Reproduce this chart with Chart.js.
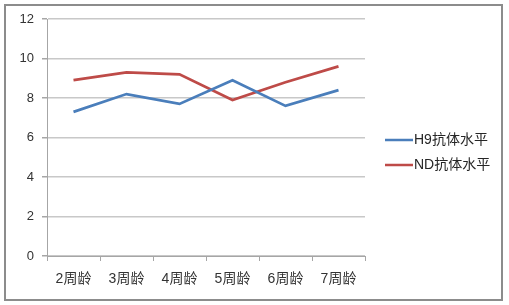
<!DOCTYPE html>
<html><head><meta charset="utf-8">
<script src="https://cdn.jsdelivr.net/npm/chart.js@4/dist/chart.umd.min.js"></script>
<style>html,body{margin:0;padding:0;background:#fff;}#w{width:509px;height:305px;position:relative;}</style>
</head><body><div id="w"><canvas id="c"></canvas></div>
<script>
const categories = ["2周龄","3周龄","4周龄","5周龄","6周龄","7周龄"];
const h9Values = [7.3, 8.2, 7.7, 8.9, 7.6, 8.4];
const ndValues = [8.9, 9.3, 9.2, 7.9, 8.8, 9.6];
const seriesNames = ["H9抗体水平","ND抗体水平"];
const yTicks = [0,2,4,6,8,10,12];

const FONT = "'Liberation Sans','Noto Sans CJK SC',sans-serif";

const frame = {
  id:'frame',
  afterDraw(chart){
    const ctx = chart.ctx;
    ctx.save();
    ctx.strokeStyle = '#8c8c8c';
    ctx.lineWidth = 2;
    ctx.strokeRect(5,5,497,295);
    const items = chart.data.datasets;
    const ys = [140,165];
    items.forEach((ds,i)=>{
      ctx.strokeStyle = ds.borderColor;
      ctx.lineWidth = 2.5;
      ctx.beginPath();
      ctx.moveTo(385, ys[i]); ctx.lineTo(413, ys[i]); ctx.stroke();
      ctx.fillStyle = '#262626';
      ctx.font = "14px " + FONT;
      ctx.textBaseline = 'middle';
      ctx.fillText(ds.label, 414, ys[i]);
    });
    ctx.restore();
  }
};

new Chart(document.getElementById('c'), {
  type:'line',
  data:{
    labels: categories,
    datasets:[
      {label: seriesNames[0], data: h9Values, borderColor:'#4a7ebb', borderWidth:2.75, pointRadius:0, tension:0, fill:false},
      {label: seriesNames[1], data: ndValues, borderColor:'#be4b48', borderWidth:2.75, pointRadius:0, tension:0, fill:false}
    ]
  },
  options:{
    responsive:true, maintainAspectRatio:false, animation:false,
    layout:{padding:{left:5, top:19, right:144, bottom:4}},
    plugins:{legend:{display:false}, tooltip:{enabled:false}},
    scales:{
      x:{
        offset:true,
        grid:{offset:true, drawOnChartArea:false, drawTicks:true, tickLength:5, color:'#a6a6a6'},
        border:{color:'#a6a6a6', width:1},
        ticks:{padding:10, color:'#333', font:{family:FONT, size:14}, maxRotation:0},
        afterFit(s){ s.height = 45; }
      },
      y:{
        min:0, max:12,
        afterBuildTicks(s){ s.ticks = yTicks.map(v=>({value:v})); },
        grid:{color:'#c8c8c8', lineWidth:1.5, drawTicks:true, tickLength:5, tickColor:'#a6a6a6'},
        border:{color:'#a6a6a6', width:1},
        ticks:{padding:8, color:'#333', font:{family:FONT, size:13}},
        afterFit(s){ s.width = 42; }
      }
    }
  },
  plugins:[frame]
});
</script>
</body></html>
